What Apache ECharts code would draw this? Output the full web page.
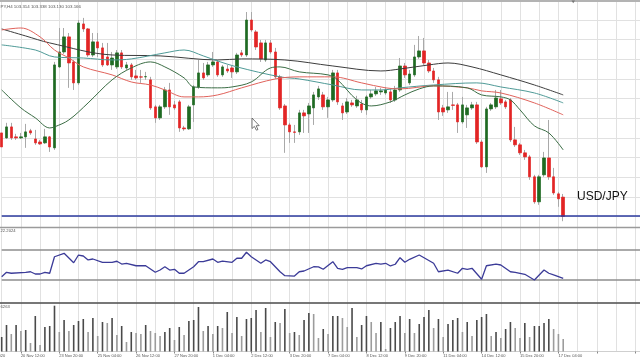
<!DOCTYPE html>
<html><head><meta charset="utf-8">
<script src="https://cdn.jsdelivr.net/npm/echarts/dist/echarts.min.js"></script>
<style>html,body{margin:0;padding:0;background:#fff}#c{width:640px;height:360px}</style>
</head><body><div id="c"></div>
<script>
const tickLabels = ['19 Nov 2020','20 Nov 12:00','23 Nov 20:00','25 Nov 04:00','26 Nov 12:00','27 Nov 20:00','1 Dec 04:00','2 Dec 12:00','3 Dec 20:00','7 Dec 04:00','8 Dec 12:00','9 Dec 20:00','11 Dec 04:00','14 Dec 12:00','15 Dec 20:00','17 Dec 04:00'];

const opens = [
103.804,103.766,103.850,103.774,103.766,103.774,103.820,103.758,103.735,103.728,
103.774,103.690,104.308,104.422,104.537,104.346,104.186,104.636,104.598,104.399,
104.499,104.453,104.384,104.323,104.308,104.415,104.300,104.323,104.239,104.232,
104.232,104.209,104.003,103.919,104.003,104.132,104.018,104.041,103.842,103.835,
104.018,104.155,104.262,104.247,104.323,104.346,104.247,104.292,104.300,104.270,
104.415,104.399,104.666,104.575,104.491,104.361,104.491,104.422,104.232,104.010,
103.865,103.812,103.812,103.957,103.949,103.995,104.079,104.094,104.003,104.056,
104.262,104.010,103.964,104.033,104.010,104.025,103.980,104.079,104.102,104.117,
104.109,104.117,104.056,104.132,104.315,104.186,104.247,104.384,104.430,104.338,
104.277,104.209,103.995,103.980,104.018,104.018,103.888,103.942,103.995,104.018,
103.735,103.545,103.987,104.003,104.064,104.041,104.056,103.751,103.713,103.652,
103.621,103.469,103.278,103.484,103.613,103.469,103.339,103.314];
const closes = [
103.697,103.850,103.766,103.766,103.774,103.812,103.804,103.728,103.720,103.774,
103.697,104.323,104.422,104.537,104.338,104.186,104.643,104.598,104.399,104.499,
104.453,104.323,104.323,104.376,104.415,104.308,104.323,104.232,104.224,104.230,
104.234,103.995,103.919,104.003,104.132,104.003,103.995,103.842,103.835,104.003,
104.155,104.262,104.224,104.323,104.346,104.247,104.308,104.277,104.270,104.399,
104.399,104.666,104.590,104.460,104.369,104.491,104.422,104.232,103.995,103.865,
103.812,103.808,103.957,103.934,104.010,104.094,104.140,104.003,104.056,104.262,
104.041,103.957,104.041,104.018,104.056,103.980,104.079,104.102,104.125,104.125,
104.132,104.056,104.132,104.315,104.247,104.254,104.384,104.430,104.338,104.277,
104.209,103.964,103.964,104.003,104.014,103.888,104.018,103.995,104.018,103.735,
103.545,103.987,104.018,104.071,104.033,104.003,103.751,103.713,103.652,103.621,
103.469,103.278,103.469,103.613,103.469,103.346,103.301,103.166];
const lows = [
103.690,103.758,103.751,103.751,103.758,103.690,103.789,103.713,103.713,103.720,
103.659,103.674,104.300,104.407,104.148,104.132,104.170,104.575,104.384,104.384,
104.384,104.308,104.315,104.285,104.292,104.292,104.285,104.209,104.209,104.186,
104.209,103.980,103.881,103.903,103.987,103.942,103.980,103.812,103.820,103.827,
103.888,104.140,104.209,104.232,104.308,104.232,104.232,104.262,104.224,104.254,
104.384,104.384,104.575,104.437,104.346,104.346,104.407,104.216,103.980,103.652,
103.728,103.728,103.789,103.804,103.804,103.865,104.056,103.980,103.919,104.041,
104.018,103.903,103.949,104.003,103.995,103.957,103.942,104.064,104.087,104.094,
104.094,104.033,104.041,104.117,104.224,104.170,104.232,104.369,104.323,104.262,
104.186,103.903,103.934,103.957,103.980,103.804,103.873,103.842,103.980,103.720,
103.537,103.499,103.972,103.987,104.018,103.987,103.735,103.697,103.636,103.598,
103.446,103.263,103.255,103.469,103.446,103.331,103.240,103.130];
const highs = [
103.820,103.881,103.881,103.797,103.804,103.873,103.835,103.827,103.751,103.835,
103.781,104.346,104.605,104.605,104.567,104.361,104.666,104.682,104.605,104.567,
104.567,104.491,104.491,104.422,104.437,104.437,104.346,104.338,104.285,104.285,
104.270,104.232,104.018,104.018,104.155,104.186,104.048,104.056,103.858,104.018,
104.170,104.361,104.338,104.346,104.422,104.361,104.323,104.323,104.315,104.415,
104.437,104.727,104.727,104.590,104.514,104.514,104.514,104.453,104.247,104.025,
103.881,103.865,103.980,103.980,104.033,104.117,104.163,104.117,104.079,104.285,
104.285,104.033,104.071,104.056,104.087,104.056,104.094,104.132,104.155,104.148,
104.155,104.140,104.163,104.376,104.338,104.285,104.476,104.544,104.529,104.361,
104.300,104.232,104.018,104.117,104.117,104.033,104.079,104.018,104.041,104.041,
103.751,104.003,104.033,104.132,104.132,104.056,104.071,103.850,103.728,103.674,
103.636,103.484,103.484,103.659,103.903,103.537,103.354,103.338];
const volumes = [
1885,3445,2275,3445,2665,2795,1105,4615,845,3185,
3315,5954,2535,4095,2665,3445,3965,4225,2535,4355,
2015,3835,3705,4355,2145,3315,1235,2535,2405,2275,
3445,2665,2405,2015,2535,3055,1495,3185,2145,3965,
4095,5785,2665,3315,2275,3315,3055,5135,2405,4485,
2015,4225,4355,5395,2535,5655,1885,3835,3705,5525,
2405,2535,2145,4095,5005,4875,1755,2925,2275,4615,
4615,4355,3185,5655,1885,3445,4615,3835,2405,3835,
325,3055,3835,4615,2405,4225,2405,3575,4485,5395,
3055,4225,1885,3575,4095,4355,2535,3835,2015,4095,
4485,4875,2015,2535,1755,2925,3835,3055,1755,3705,
1885,3315,3315,3705,4225,2925,2275,1625];

const rsiBars = [0,1,2,5,6,7,8,9,10,11,13,15,16,17,18,19,21,23,24,25,26,28,30,32,33,34,35,36,37,38,40,41,42,44,45,46,48,49,50,51,52,54,55,56,58,59,61,62,63,65,66,67,69,70,71,72,74,75,76,78,79,80,81,82,83,84,85,87,88,90,91,93,95,96,97,98,100,101,103,104,106,107,109,111,113,114,115,117];
const rsiVals = [34.4,40.3,39,40.3,41,38,38,40.3,39,61,65.6,53,63.3,62,56.7,58,53.6,53.6,55,51.3,52.3,49,49,40.3,43.3,47.7,43.3,44.3,39,39,47.7,54.4,54.4,58,53.6,55.3,53.6,59,59,67,61,52.3,56.7,54.4,41,35.7,35.3,41,42,47.7,47.5,44.3,54.4,45.6,44.3,46.4,46.4,44.7,49,52.3,51.3,52.3,48.7,51,59.7,53.6,57.6,63.3,59.7,52.3,41,43.3,39,45.6,44.3,45.6,31,49,51.3,50,41,40.3,37.6,30,43.3,39,36.7,32.3];
const rsiLevels = [70, 30];

const maSlowBars = [0,5,10,23,33,45,50,59,69,79,83,89,93,98,104,111,117];
const maSlow = [104.598,104.544,104.491,104.399,104.392,104.361,104.369,104.361,104.315,104.277,104.292,104.323,104.338,104.308,104.247,104.170,104.094];
const maTealBars = [0,7,11,17,23,27,34,38,42,45,49,58,62,69,75,79,83,90,99,104,111,117];
const maTeal = [104.476,104.437,104.384,104.376,104.361,104.369,104.415,104.437,104.392,104.353,104.308,104.232,104.216,104.170,104.132,104.132,104.148,104.170,104.186,104.155,104.109,104.033];
const maRedBars = [0,4,8,11,14,17,23,27,31,34,38,41,45,50,57,62,69,75,80,83,90,97,100,104,111,117];
const maRed = [104.590,104.605,104.537,104.437,104.376,104.308,104.247,104.193,104.170,104.132,104.079,104.079,104.094,104.148,104.216,104.232,104.232,104.186,104.148,104.140,104.163,104.148,104.125,104.109,104.033,103.942];
const maFastBars = [0,4,7,10,11,14,18,23,27,31,34,38,40,45,48,52,56,58,62,68,70,74,77,81,84,87,90,97,100,104,106,108,111,114,117];
const maFast = [104.132,103.995,103.919,103.842,103.850,103.903,104.033,104.209,104.300,104.346,104.308,104.224,104.155,104.148,104.155,104.193,104.300,104.308,104.270,104.247,104.209,104.056,104.010,104.041,104.094,104.140,104.163,104.148,104.094,104.079,104.056,103.980,103.858,103.804,103.674];

const bidPrice = 103.166;
const headerText = 'PY,H4 103.314 103.338 103.130 103.166';
const rsiText = '22.2024';
const volText = '6263';
const symbolText = 'USD/JPY';

// ---- layout ----
const TRAIL = 16, STEP = 4.8, FIRST_TICK = 4, LABEL_EVERY = 8;
const N = opens.length;
const C = N + TRAIL;
const categories = [];
for (let k = 0; k < C; k++) categories.push('c' + k);
const LEFT = 1.7;
const WIDTH = Math.min((C - 1) * STEP, 640 - LEFT);
const FONT = 'Liberation Sans';
const VOL_TOP = 303, VOL_H = 48.5;

const wickData = [], bodyData = [], volData = [];
for (let i = 0; i < N; i++) {
  const o = opens[i], c = closes[i];
  wickData.push([i, o, c, lows[i], highs[i]]);
  bodyData.push([i, o, c, Math.min(o, c), Math.max(o, c)]);
  const up = i === 0 ? true : volumes[i] >= volumes[i - 1];
  volData.push({ value: [i, volumes[i]], itemStyle: { color: up ? '#4a4a4a' : '#9c9c9c' } });
}
const pairs = (bars, vals) => bars.map((b, j) => [b, vals[j]]);
const isLabelIdx = (i) => i >= FIRST_TICK && (i - FIRST_TICK) % LABEL_EVERY === 0;

const gridSplit = { show: true, interval: (i) => i % 4 === 0, lineStyle: { color: '#e1e1e1', width: 1 } };
function xAx(g, labels) {
  return {
    type: 'category', gridIndex: g, data: categories, boundaryGap: false,
    axisLine: { show: labels, lineStyle: { color: '#cfcfcf' } },
    axisTick: { show: labels, interval: isLabelIdx, length: 2, lineStyle: { color: '#888' } },
    axisLabel: labels ? {
      show: true, interval: isLabelIdx, align: 'left', margin: 2,
      formatter: (v, i) => tickLabels[(i - FIRST_TICK) / LABEL_EVERY + 1] || '',
      fontSize: 4, color: '#555', fontFamily: FONT
    } : { show: false },
    splitLine: gridSplit
  };
}
const maLine = (bars, vals, color) => ({
  type: 'line', xAxisIndex: 0, yAxisIndex: 0, data: pairs(bars, vals),
  showSymbol: false, smooth: 0.35, connectNulls: true, z: 5, silent: true,
  lineStyle: { color: color, width: 1 }
});

const chart = echarts.init(document.getElementById('c'), null, { renderer: 'canvas' });
chart.setOption({
  animation: false,
  backgroundColor: '#ffffff',
  grid: [
    { left: LEFT, width: WIDTH, top: 0.35, height: 235.8 },
    { left: LEFT, width: WIDTH, top: 227.5, height: 75 },
    { left: LEFT, width: WIDTH, top: VOL_TOP, height: VOL_H }
  ],
  xAxis: [xAx(0, false), xAx(1, false), xAx(2, true)],
  yAxis: [
    { type: 'value', gridIndex: 0, min: 103.016, max: 104.816, interval: 0.15,
      axisLabel: { show: false }, axisLine: { show: false }, axisTick: { show: false },
      splitLine: { show: true, showMinLine: false, showMaxLine: false, lineStyle: { color: '#e1e1e1', width: 1 } } },
    { type: 'value', gridIndex: 1, min: 0, max: 100,
      axisLabel: { show: false }, axisLine: { show: false }, axisTick: { show: false }, splitLine: { show: false } },
    { type: 'value', gridIndex: 2, min: 0, max: 6305,
      axisLabel: { show: false }, axisLine: { show: false }, axisTick: { show: false }, splitLine: { show: false } }
  ],
  series: [
    { type: 'candlestick', name: 'wick', xAxisIndex: 0, yAxisIndex: 0, data: wickData,
      encode: { x: 0, y: [1, 2, 3, 4] }, barWidth: 1, z: 2, silent: true,
      itemStyle: { color: '#a9a9a9', color0: '#a9a9a9', borderColor: '#a9a9a9', borderColor0: '#a9a9a9', borderWidth: 1 } },
    { type: 'candlestick', name: 'body', xAxisIndex: 0, yAxisIndex: 0, data: bodyData,
      encode: { x: 0, y: [1, 2, 3, 4] }, barWidth: 3, z: 3, silent: true,
      itemStyle: { color: '#1f6a22', color0: '#e22525', borderColor: '#1f6a22', borderColor0: '#e22525', borderWidth: 0.7 },
      markLine: { symbol: 'none', silent: true, label: { show: false },
        lineStyle: { color: '#2b3a9e', width: 1.5, type: 'solid' },
        data: [{ yAxis: bidPrice }] } },
    maLine(maSlowBars, maSlow, '#3d3d3d'),
    maLine(maTealBars, maTeal, '#4f9a97'),
    maLine(maRedBars, maRed, '#e0625b'),
    maLine(maFastBars, maFast, '#3b6d45'),
    { type: 'line', xAxisIndex: 1, yAxisIndex: 1, data: pairs(rsiBars, rsiVals),
      showSymbol: false, connectNulls: true, silent: true, z: 5,
      lineStyle: { color: '#3b3b98', width: 1.3 },
      markLine: { symbol: 'none', silent: true, label: { show: false },
        lineStyle: { color: '#8e8e8e', width: 1.6, type: 'solid' },
        data: rsiLevels.map(v => ({ yAxis: v })) } },
    { type: 'bar', xAxisIndex: 2, yAxisIndex: 2, data: volData, barWidth: 1.6, silent: true }
  ],
  graphic: [
    { type: 'rect', z: 100, shape: { x: 0, y: 0, width: 640, height: 2 }, style: { fill: '#b3b3b3' } },
    { type: 'line', z: 100, shape: { x1: 0, y1: 227.5, x2: 640, y2: 227.5 }, style: { stroke: '#9b9b9b', lineWidth: 1.6 } },
    { type: 'line', z: 100, shape: { x1: 0, y1: VOL_TOP, x2: 640, y2: VOL_TOP }, style: { stroke: '#4a4a4a', lineWidth: 1.3 } },
    { type: 'text', z: 100, style: { text: tickLabels[0], x: LEFT - FIRST_TICK * STEP, y: VOL_TOP + VOL_H + 2, fontSize: 4, fontFamily: FONT, fill: '#555', verticalAlign: 'top' } },
    { type: 'text', z: 100, style: { text: headerText, x: 0.5, y: 6.5, fontSize: 4.4, fontFamily: FONT, fill: '#555', verticalAlign: 'middle' } },
    { type: 'text', z: 100, style: { text: rsiText, x: 0.5, y: 230.5, fontSize: 4.2, fontFamily: FONT, fill: '#555', verticalAlign: 'middle' } },
    { type: 'text', z: 100, style: { text: volText, x: 0.5, y: 306.5, fontSize: 4.2, fontFamily: FONT, fill: '#555', verticalAlign: 'middle' } },
    { type: 'text', z: 100, style: { text: symbolText, x: 577, y: 196.3, fontSize: 12, fontFamily: FONT, fill: '#111', verticalAlign: 'middle' } },
    { type: 'polygon', z: 100, shape: { points: [[571.5, 0.5], [575, 0.5], [573.2, 3.3]] }, style: { fill: '#777' } },
    { type: 'polygon', z: 100, shape: { points: [[252, 118], [252, 128.5], [254.4, 126.4], [256.4, 130.2], [258, 129.5], [256.1, 125.8], [259.2, 125.6]] },
      style: { fill: '#fff', stroke: '#555', lineWidth: 0.8 } }
  ]
});
</script></body></html>
